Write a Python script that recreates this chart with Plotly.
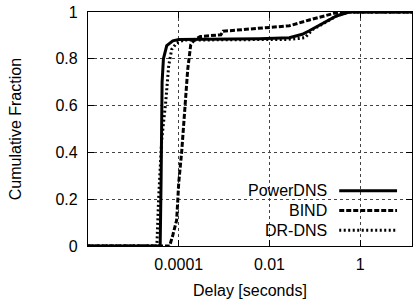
import plotly.graph_objects as go

# ---- data ----
powerdns_delay = [1e-6, 3.9e-5, 4.1e-5, 4.3e-5, 4.6e-5, 5.45e-5, 7.4e-5, 1.0e-4, 6e-3, 0.0275, 0.053, 0.0757, 0.2, 0.3, 0.57, 14]
powerdns_cdf   = [0.0,  0.0,    0.3,    0.7,    0.8,    0.856,   0.877,  0.882,  0.886, 0.89,  0.905, 0.92,   0.965, 0.983, 1.0, 1.0]

bind_delay = [1e-6, 6.3e-5, 7.4e-5, 9.0e-5, 9.5e-5, 1.0e-4, 1.16e-4, 1.355e-4, 1.58e-4, 1.84e-4, 2.25e-4, 3e-4, 8.5e-4, 9.5e-4, 6e-3, 0.0275, 0.0757, 0.208, 0.345, 14]
bind_cdf   = [0.0,  0.0,    0.046,  0.11,   0.19,   0.27,   0.4,     0.6,      0.755,   0.86,    0.882,   0.895, 0.903, 0.918, 0.932, 0.941, 0.966, 0.987, 1.0, 1.0]

drdns_delay = [1e-6, 3.3e-5, 3.6e-5, 4.2e-5, 5.2e-5, 6.0e-5, 7.0e-5, 9e-5, 1.3e-4, 0.025, 0.045, 0.06, 0.09, 0.2, 0.3, 0.57, 14]
drdns_cdf   = [0.0,  0.0,    0.2,    0.45,   0.62,   0.77,   0.84,   0.868, 0.88,  0.883, 0.887, 0.89, 0.925, 0.965, 0.983, 1.0, 1.0]

series_names = ["PowerDNS", "BIND", "DR-DNS"]
x_tickvals = [1e-4, 1e-2, 1]
x_ticktext = ["0.0001", "0.01", "1"]
y_tickvals = [0, 0.2, 0.4, 0.6, 0.8, 1]
y_ticktext = ["0", "0.2", "0.4", "0.6", "0.8", "1"]

FONT = "Liberation Sans, Arial, Helvetica, sans-serif"
FS = 16
styles = [dict(color="black", width=3, dash="solid"),
          dict(color="black", width=3, dash="5px,2px"),
          dict(color="black", width=3, dash="2px,2.5px")]

fig = go.Figure()
for name, xs, ys, st in zip(series_names,
                            [powerdns_delay, bind_delay, drdns_delay],
                            [powerdns_cdf, bind_cdf, drdns_cdf], styles):
    fig.add_trace(go.Scatter(x=xs, y=ys, mode="lines", name=name,
                             line=st, showlegend=False))

W, H = 417, 303
L, R, T, B = 88, 4, 9, 57
pw, ph = W - L - R, H - T - B

def px(x):
    return (x - L) / pw

def py(y):
    return (H - B - y) / ph

axis_common = dict(showline=True, linecolor="black", linewidth=1.2, mirror="ticks",
                   ticks="inside", ticklen=6, tickcolor="black", tickwidth=1,
                   showgrid=True, gridcolor="#444", gridwidth=1, griddash="dot",
                   zeroline=False, tickfont=dict(family=FONT, size=FS, color="black"))

fig.update_layout(
    width=W, height=H,
    margin=dict(l=L, r=R, t=T, b=B),
    paper_bgcolor="white", plot_bgcolor="white",
    font=dict(family=FONT, size=FS, color="black"),
    xaxis=dict(type="log", range=[-6, 1.143], tickvals=x_tickvals, ticktext=x_ticktext,
               ticklabelstandoff=4, **axis_common),
    yaxis=dict(range=[0, 1], tickvals=y_tickvals, ticktext=y_ticktext,
               ticklabelstandoff=6, **axis_common),
    showlegend=False,
)

# axis titles
fig.add_annotation(x=0.5, y=py(291), xref="paper", yref="paper", text="Delay [seconds]",
                   showarrow=False, xanchor="center", yanchor="middle",
                   font=dict(family=FONT, size=FS, color="black"))
fig.add_annotation(x=px(15), y=0.5, xref="paper", yref="paper", text="Cumulative Fraction",
                   showarrow=False, textangle=-90, xanchor="center", yanchor="middle",
                   font=dict(family=FONT, size=FS, color="black"))

# legend (text right-aligned, sample line at right) on a white box
fig.add_shape(type="rect", xref="paper", yref="paper",
              x0=px(243), x1=px(410), y0=0, y1=py(177),
              fillcolor="white", line=dict(width=0), layer="between")
legend_rows = [190, 210, 230]
for name, st, yr in zip(series_names, styles, legend_rows):
    fig.add_annotation(x=px(330), y=py(yr), xref="paper", yref="paper", text=name,
                       showarrow=False, xanchor="right", yanchor="middle",
                       font=dict(family=FONT, size=FS, color="black"))
    fig.add_shape(type="line", xref="paper", yref="paper",
                  x0=px(340), x1=px(398), y0=py(yr), y1=py(yr),
                  line=st, layer="above")

fig.write_html("out.html", config={"displayModeBar": False},
               post_script="document.body.style.margin='0';document.body.style.overflow='hidden';")
